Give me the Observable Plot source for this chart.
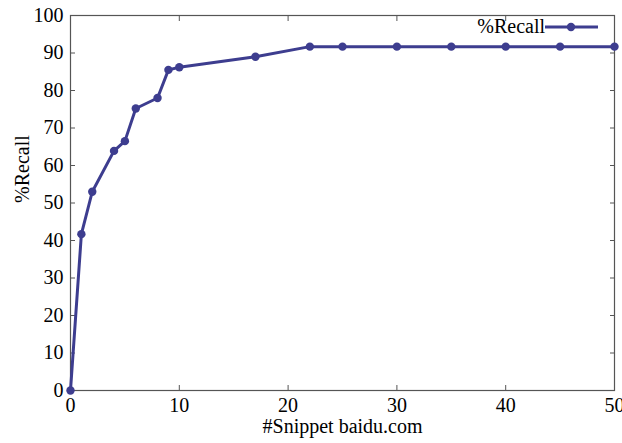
<!DOCTYPE html>
<html>
<head>
<meta charset="utf-8">
<script src="https://cdn.jsdelivr.net/npm/d3@7"></script>
<script src="https://cdn.jsdelivr.net/npm/@observablehq/plot@0.6"></script>
<style>
  html, body { margin: 0; padding: 0; background: #fff; }
  #wrap { position: relative; width: 622px; height: 443px; font-family: "Liberation Serif", "DejaVu Serif", serif; }
  #legend { position: absolute; right: 24px; top: 15px; display: flex; align-items: center; font-size: 20px; color: #000; }
  #legend svg { margin-left: 0px; }
</style>
</head>
<body>
<div id="wrap"></div>
<script>
const seriesName = "%Recall";
const snippets = [0, 1, 2, 4, 5, 6, 8, 9, 10, 17, 22, 25, 30, 35, 40, 45, 50];
const recall   = [0, 41.7, 53, 63.9, 66.5, 75.2, 78, 85.5, 86.2, 89, 91.7, 91.7, 91.7, 91.7, 91.7, 91.7, 91.7];
const xTicks = [0, 10, 20, 30, 40, 50];
const yTicks = [0, 10, 20, 30, 40, 50, 60, 70, 80, 90, 100];
const xLabel = "#Snippet baidu.com";
const yLabel = "%Recall";

const color = "#3d3d8f";
const data = snippets.map((s, i) => ({x: s, y: recall[i]}));

const chart = Plot.plot({
  width: 622,
  height: 443,
  marginLeft: 70,
  marginRight: 8,
  marginTop: 15,
  marginBottom: 53,
  style: {fontFamily: "'Liberation Serif', serif", fontSize: "20px", color: "#000", background: "#fff"},
  x: {domain: [0, 50], ticks: xTicks},
  y: {domain: [0, 100], ticks: yTicks},
  marks: [
    Plot.frame({stroke: "#555", strokeWidth: 1.2}),
    Plot.axisX({ticks: xTicks, tickSize: -5, tickPadding: 12, stroke: "#555", label: null, fontSize: 20}),
    Plot.axisX({ticks: xTicks, anchor: "top", tickSize: -5, tickFormat: () => "", stroke: "#555", label: null}),
    Plot.axisY({ticks: yTicks, tickSize: -5, tickPadding: 12, stroke: "#555", label: null, fontSize: 20}),
    Plot.axisY({ticks: yTicks, anchor: "right", tickSize: -5, tickFormat: () => "", stroke: "#555", label: null}),
    Plot.text([xLabel], {frameAnchor: "bottom", dy: 42, text: d => d, fontSize: 20}),
    Plot.text([yLabel], {frameAnchor: "left", dx: -48, rotate: -90, text: d => d, fontSize: 20}),
    Plot.line(data, {x: "x", y: "y", stroke: color, strokeWidth: 3}),
    Plot.dot(data, {x: "x", y: "y", r: 4.2, fill: color})
  ]
});

const wrap = document.getElementById("wrap");
wrap.appendChild(chart);
const legend = document.createElement("div");
legend.id = "legend";
legend.innerHTML = `<span>${seriesName}</span><svg width="53" height="12"><line x1="0" y1="6" x2="53" y2="6" stroke="${color}" stroke-width="3"/><circle cx="26" cy="6" r="4.2" fill="${color}"/></svg>`;
wrap.appendChild(legend);
</script>
</body>
</html>
